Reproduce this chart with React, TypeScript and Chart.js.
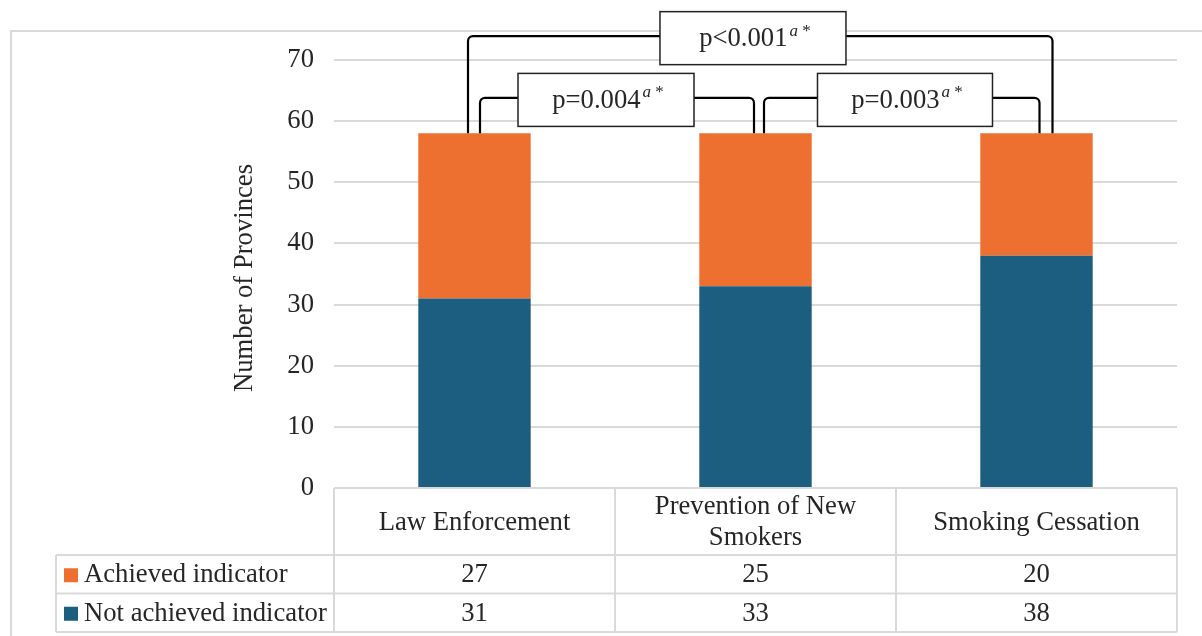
import React, { useEffect, useRef } from "react";
import { Chart, registerables } from "chart.js";

Chart.register(...registerables);

const categories = ["Law Enforcement", "Prevention of New Smokers", "Smoking Cessation"];
const achieved = [27, 25, 20];
const notAchieved = [31, 33, 38];
const seriesNames = ["Achieved indicator", "Not achieved indicator"];
const yTicks = [0, 10, 20, 30, 40, 50, 60, 70];
const yTitle = "Number of Provinces";
// comparisons: from category, to category, label, bracket level (axis units), box center (category index)
const compFrom = [0, 0, 1];
const compTo = [2, 1, 2];
const compLabel = ["p<0.001", "p=0.004", "p=0.003"];
const compLevel = [73.9, 63.8, 63.8];
const compBoxAt = [0.991, 0.468, 1.532];

const ORANGE = "#ED7031";
const BLUE = "#1B5E80";
const GRID = "#D9D9D9";
const TEXT = "#262626";
const FONT = '"Liberation Serif", "Times New Roman", serif';
const FS = 26.67;

function drawPLabel(ctx: CanvasRenderingContext2D, cx: number, cy: number, main: string) {
  ctx.save();
  ctx.textBaseline = "middle";
  ctx.textAlign = "left";
  const mainFont = `${FS}px ${FONT}`;
  const supFont = `italic 17px ${FONT}`;
  const starFont = `17px ${FONT}`;
  ctx.font = mainFont;
  const w1 = ctx.measureText(main).width;
  ctx.font = supFont;
  const w2 = ctx.measureText("a").width;
  ctx.font = starFont;
  const wsp = ctx.measureText(" ").width;
  const w3 = ctx.measureText("*").width;
  const total = w1 + 2 + w2 + wsp + w3;
  let x = cx - total / 2;
  ctx.fillStyle = TEXT;
  ctx.font = mainFont;
  ctx.fillText(main, x, cy + 1);
  x += w1 + 2;
  ctx.font = supFont;
  ctx.fillText("a", x, cy - 7);
  x += w2 + wsp;
  ctx.font = starFont;
  ctx.fillText("*", x, cy - 7);
  ctx.restore();
}

function wrapText(ctx: CanvasRenderingContext2D, text: string, maxW: number): string[] {
  const words = text.split(" ");
  const lines: string[] = [];
  let cur = "";
  for (const w of words) {
    const t = cur ? cur + " " + w : w;
    if (ctx.measureText(t).width > maxW && cur) {
      lines.push(cur);
      cur = w;
    } else cur = t;
  }
  if (cur) lines.push(cur);
  return lines;
}

const overlayPlugin = {
  id: "overlay",
  beforeDraw(chart: any) {
    const ctx: CanvasRenderingContext2D = chart.ctx;
    ctx.save();
    ctx.fillStyle = "#fff";
    ctx.fillRect(0, 0, chart.width, chart.height);
    ctx.strokeStyle = GRID;
    ctx.lineWidth = 2;
    ctx.beginPath();
    ctx.moveTo(11, chart.height);
    ctx.lineTo(11, 31);
    ctx.lineTo(chart.width, 31);
    ctx.stroke();
    ctx.restore();
  },
  afterDraw(chart: any) {
    const ctx: CanvasRenderingContext2D = chart.ctx;
    const xs = chart.scales.x;
    const ys = chart.scales.y;
    const area = chart.chartArea;
    const colW = (area.right - area.left) / categories.length;
    const tableTop = area.bottom;
    const headerBottom = tableTop + 67;
    const rowH = 38.5;
    const row1Bottom = headerBottom + rowH;
    const row2Bottom = row1Bottom + rowH;
    const legendLeft = 56;

    // Table grid
    ctx.save();
    ctx.strokeStyle = GRID;
    ctx.lineWidth = 2;
    ctx.beginPath();
    ctx.moveTo(area.left, tableTop);
    ctx.lineTo(area.right, tableTop);
    for (const y of [headerBottom, row1Bottom, row2Bottom]) {
      ctx.moveTo(legendLeft, y);
      ctx.lineTo(area.right, y);
    }
    for (let i = 0; i <= categories.length; i++) {
      const x = area.left + i * colW;
      ctx.moveTo(x, tableTop);
      ctx.lineTo(x, row2Bottom);
    }
    ctx.moveTo(legendLeft, headerBottom);
    ctx.lineTo(legendLeft, row2Bottom);
    ctx.stroke();

    // Header text
    ctx.fillStyle = TEXT;
    ctx.font = `${FS}px ${FONT}`;
    ctx.textAlign = "center";
    ctx.textBaseline = "middle";
    categories.forEach((c, i) => {
      const cx = xs.getPixelForValue(i);
      const lines = wrapText(ctx, c, colW - 16);
      const lh = 31;
      const cy = (tableTop + headerBottom) / 2 + 1;
      lines.forEach((l, j) => {
        ctx.fillText(l, cx, cy + (j - (lines.length - 1) / 2) * lh);
      });
    });

    // Rows
    const rows = [achieved, notAchieved];
    const colors = [ORANGE, BLUE];
    const rowTops = [headerBottom, row1Bottom];
    rows.forEach((vals, r) => {
      const cy = rowTops[r] + rowH / 2 + 1;
      ctx.fillStyle = colors[r];
      ctx.fillRect(64, cy - 7, 14, 14);
      ctx.fillStyle = TEXT;
      ctx.textAlign = "left";
      ctx.fillText(seriesNames[r], 84, cy);
      ctx.textAlign = "center";
      vals.forEach((v, i) => {
        ctx.fillText(String(v), xs.getPixelForValue(i), cy);
      });
    });

    // Y title
    ctx.save();
    ctx.translate(245, (area.top + area.bottom) / 2 + 4);
    ctx.rotate(-Math.PI / 2);
    ctx.textAlign = "center";
    ctx.textBaseline = "middle";
    ctx.fillText(yTitle, 0, 0);
    ctx.restore();

    // Brackets
    const leftOff = [-6.5, 5.5, 8.5];
    const rightOff = [16, -1.5, 3];
    const boxW = [186, 176, 175];
    const boxH = 53;
    const totals = categories.map((_, i) => achieved[i] + notAchieved[i]);
    ctx.strokeStyle = "#000";
    ctx.lineWidth = 2.2;
    const rad = 5;
    compLabel.forEach((lab, k) => {
      const x1 = xs.getPixelForValue(compFrom[k]) + leftOff[k];
      const x2 = xs.getPixelForValue(compTo[k]) + rightOff[k];
      const yb1 = ys.getPixelForValue(totals[compFrom[k]]);
      const yb2 = ys.getPixelForValue(totals[compTo[k]]);
      const yl = ys.getPixelForValue(compLevel[k]);
      ctx.beginPath();
      ctx.moveTo(x1, yb1);
      ctx.arcTo(x1, yl, x1 + rad, yl, rad);
      ctx.arcTo(x2, yl, x2, yl + rad, rad);
      ctx.lineTo(x2, yb2);
      ctx.stroke();
    });
    compLabel.forEach((lab, k) => {
      const cx = xs.getPixelForValue(compBoxAt[k]);
      const cy = ys.getPixelForValue(compLevel[k]) + 2;
      const w = boxW[k];
      ctx.fillStyle = "#fff";
      ctx.fillRect(cx - w / 2, cy - boxH / 2, w, boxH);
      ctx.lineWidth = 1.5;
      ctx.strokeStyle = "#222";
      ctx.strokeRect(cx - w / 2, cy - boxH / 2, w, boxH);
      drawPLabel(ctx, cx + 2, cy, lab);
    });
    ctx.restore();
  },
};

export default function App() {
  const ref = useRef<HTMLCanvasElement | null>(null);
  useEffect(() => {
    if (!ref.current) return;
    const chart = new Chart(ref.current, {
      type: "bar",
      data: {
        labels: categories,
        datasets: [
          { label: seriesNames[1], data: notAchieved, backgroundColor: BLUE, stack: "s" },
          { label: seriesNames[0], data: achieved, backgroundColor: ORANGE, stack: "s" },
        ],
      },
      options: {
        responsive: false,
        animation: false,
        devicePixelRatio: 1,
        layout: { padding: { left: 0, right: 25, top: 60, bottom: 148 } },
        datasets: { bar: { categoryPercentage: 1, barPercentage: 0.4 } },
        plugins: { legend: { display: false }, tooltip: { enabled: false }, title: { display: false } },
        scales: {
          x: { display: false, stacked: true, grid: { display: false } },
          y: {
            stacked: true,
            min: 0,
            max: 70,
            afterFit: (s: any) => {
              s.width = 334;
            },
            afterBuildTicks: (s: any) => {
              s.ticks = yTicks.map((v) => ({ value: v }));
            },
            border: { display: false },
            grid: { color: GRID, lineWidth: 2, drawTicks: false },
            ticks: {
              padding: 20,
              color: TEXT,
              font: { family: FONT, size: FS },
            },
          },
        },
      },
      plugins: [overlayPlugin],
    });
    return () => chart.destroy();
  }, []);
  return (
    <div style={{ position: "fixed", left: 0, top: 0, width: 1202, height: 636, background: "#fff" }}>
      <canvas ref={ref} width={1202} height={636} style={{ width: 1202, height: 636, display: "block" }} />
    </div>
  );
}
